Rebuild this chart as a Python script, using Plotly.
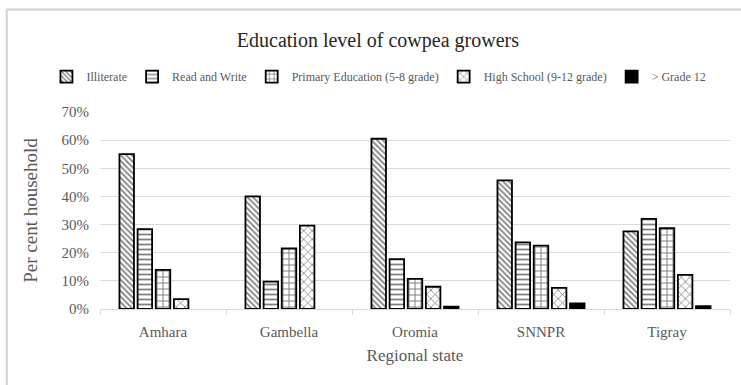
import plotly.graph_objects as go

regions = ["Amhara", "Gambella", "Oromia", "SNNPR", "Tigray"]
series_names = ["Illiterate", "Read and Write", "Primary Education (5-8 grade)",
                "High School (9-12 grade)", "> Grade 12"]
illiterate = [0.55, 0.40, 0.605, 0.457, 0.276]
read_write = [0.284, 0.097, 0.177, 0.237, 0.32]
primary = [0.139, 0.215, 0.107, 0.225, 0.287]
high_school = [0.035, 0.296, 0.079, 0.075, 0.121]
above_12 = [None, None, 0.008, 0.02, 0.01]
values = [illiterate, read_write, primary, high_school, above_12]

y_ticks = [0, 0.1, 0.2, 0.3, 0.4, 0.5, 0.6, 0.7]
y_tick_labels = ["0%", "10%", "20%", "30%", "40%", "50%", "60%", "70%"]

patterns = [
    dict(shape="\\", fgcolor="black", bgcolor="white", size=4, solidity=0.45),
    dict(shape="-", fgcolor="black", bgcolor="white", size=5, solidity=0.35),
    dict(shape="+", fgcolor="black", bgcolor="white", size=6, solidity=0.3),
    dict(shape="x", fgcolor="black", bgcolor="white", size=6, solidity=0.25),
    dict(shape="", fgcolor="black", bgcolor="black"),
]

SERIF = "Liberation Serif, DejaVu Serif, serif"
GRAY = "#595959"

fig = go.Figure()
for name, vals, pat in zip(series_names, values, patterns):
    fig.add_trace(go.Bar(
        x=regions, y=vals, name=name,
        marker=dict(color="black" if pat["shape"] == "" else "white",
                    pattern=pat,
                    line=dict(color="black", width=1.8)),
    ))

fig.update_layout(
    width=741, height=385,
    paper_bgcolor="white", plot_bgcolor="white",
    barmode="group", bargap=0.28, bargroupgap=0.2,
    margin=dict(l=100, r=11, t=112, b=76),
    font=dict(family=SERIF, color=GRAY, size=13),
    title=dict(text="Education level of cowpea growers",
               font=dict(family=SERIF, size=20, color="#262626"),
               x=0.51, xanchor="center", y=0.895, yanchor="middle"),
    legend=dict(orientation="h", x=-0.085, xanchor="left", y=1.18, yanchor="middle",
                font=dict(family=SERIF, size=12, color=GRAY),
                itemwidth=30, traceorder="normal", tracegroupgap=0,
                bgcolor="rgba(0,0,0,0)"),
    xaxis=dict(
        title=dict(text="Regional state", font=dict(family=SERIF, size=17, color=GRAY),
                   standoff=10),
        showline=True, linecolor="#d9d9d9", linewidth=1,
        ticks="outside", tickson="boundaries", ticklen=5, tickcolor="#d9d9d9",
        ticklabelstandoff=9,
        tickfont=dict(family=SERIF, size=15, color=GRAY),
        showgrid=False,
    ),
    yaxis=dict(
        title=dict(text="Per cent household", font=dict(family=SERIF, size=19, color=GRAY),
                   standoff=18),
        range=[0, 0.7], tickvals=y_ticks, ticktext=y_tick_labels,
        ticklabelstandoff=10,
        tickfont=dict(family=SERIF, size=15, color=GRAY),
        showgrid=True, gridcolor="#d9d9d9", gridwidth=1,
        zeroline=False, showline=False, ticks="",
    ),
    shapes=[
        dict(type="line", xref="paper", yref="paper", x0=-0.148, x1=1.05, y0=1.52, y1=1.52,
             line=dict(color="#d0d0d0", width=2)),
        dict(type="line", xref="paper", yref="paper", x0=-0.148, x1=-0.148, y0=1.52, y1=-0.5,
             line=dict(color="#d0d0d0", width=2)),
    ],
)

fig.write_html("out.html")
